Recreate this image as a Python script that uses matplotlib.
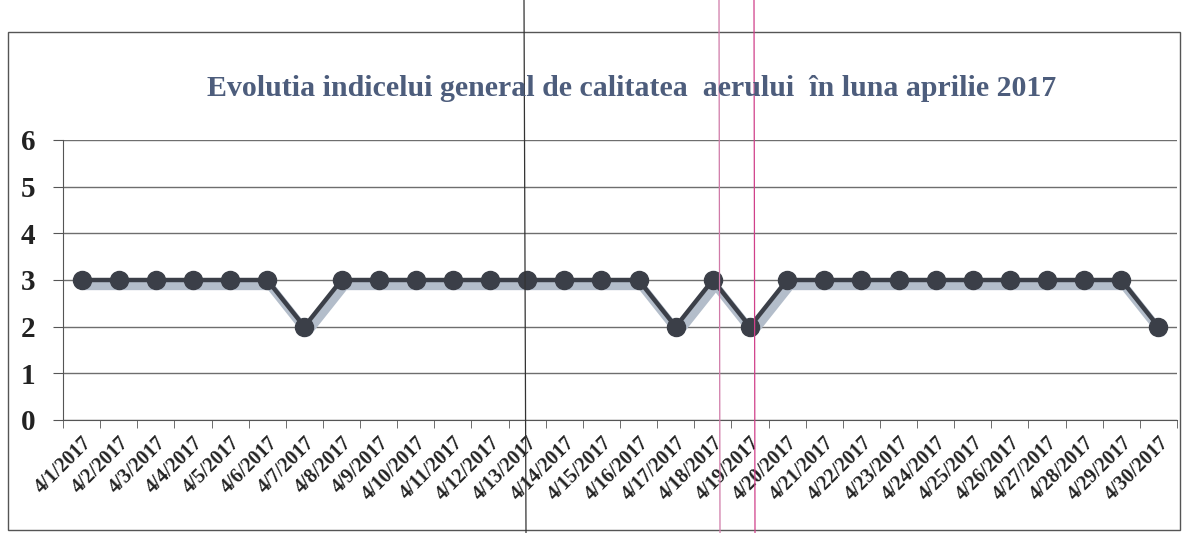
import matplotlib.pyplot as plt
import matplotlib.transforms as mtransforms
from matplotlib.patches import Rectangle
from matplotlib.lines import Line2D
import numpy as np

# daily general air quality index, April 2017
zile = ['4/%d/2017' % d for d in range(1, 31)]
indice = [3, 3, 3, 3, 3, 3, 2, 3, 3, 3, 3, 3, 3, 3, 3,
          3, 2, 3, 2, 3, 3, 3, 3, 3, 3, 3, 3, 3, 3, 2]
y_ticks = [0, 1, 2, 3, 4, 5, 6]
titlu = 'Evolutia indicelui general de calitatea  aerului  în luna aprilie 2017'

plt.rcParams['font.family'] = ['Liberation Serif', 'DejaVu Serif']
plt.rcParams['font.weight'] = 'bold'

W, H = 1187, 533
fig = plt.figure(figsize=(W / 100, H / 100), dpi=100)
fig.patch.set_facecolor('white')

# chart frame
fig.patches.append(Rectangle((8 / W, 1 - 530 / H), 1172 / W, 498 / H,
                             transform=fig.transFigure, fill=False,
                             edgecolor='#555555', linewidth=1.0))

ax = fig.add_axes([63 / W, 1 - 420 / H, (1177 - 63) / W, (420 - 140) / H])
x = np.arange(len(zile))

# soft shadow under the line (no markers)
shadow_tr = mtransforms.offset_copy(ax.transData, fig=fig, x=3, y=-6, units='dots')
ax.plot(x, indice, color='#b3bdca', linewidth=6, solid_capstyle='round',
        transform=shadow_tr, zorder=2)

ax.plot(x, indice, color='#3b3f48', linewidth=3.2, marker='o',
        markersize=13, markerfacecolor='#3b3f48',
        markeredgecolor='#3b3f48', zorder=3)

ax.set_xlim(-0.5, len(zile) - 0.5)
ax.set_ylim(0, 6)
ax.set_yticks(y_ticks)
ax.set_yticklabels([str(v) for v in y_ticks], fontsize=21, fontweight='bold')
ax.yaxis.grid(True, color='#6e6e6e', linewidth=1.0)
ax.set_axisbelow(True)

ax.set_xticks(x)
ax.set_xticklabels(zile, rotation=45, ha='right', rotation_mode='anchor',
                   fontsize=14.5, fontweight='bold', color='#222222')
ax.set_xticks(np.arange(len(zile) + 1) - 0.5, minor=True)
ax.tick_params(axis='x', which='major', length=0, pad=9)
ax.tick_params(axis='x', which='minor', length=6, color='#555555', direction='out')
ax.tick_params(axis='y', length=7, color='#555555', pad=13, labelcolor='#222222')

for s in ['top', 'right']:
    ax.spines[s].set_visible(False)
ax.spines['left'].set_color('#555555')
ax.spines['bottom'].set_color('#555555')

fig.text(632 / W, 1 - 88 / H, titlu, ha='center', va='center',
         fontsize=21.5, fontweight='bold', color='#4d5d7c')

# scanner artefacts
fig.lines.append(Line2D([524 / W, 526 / W], [1, 0], transform=fig.transFigure,
                        color='#333333', linewidth=0.9))
fig.lines.append(Line2D([719 / W, 720 / W], [1, 0], transform=fig.transFigure,
                        color='#d07aa8', linewidth=0.9))
fig.lines.append(Line2D([754 / W, 755 / W], [1, 0], transform=fig.transFigure,
                        color='#d0408a', linewidth=0.9))

fig.savefig('out.png', dpi=100)
